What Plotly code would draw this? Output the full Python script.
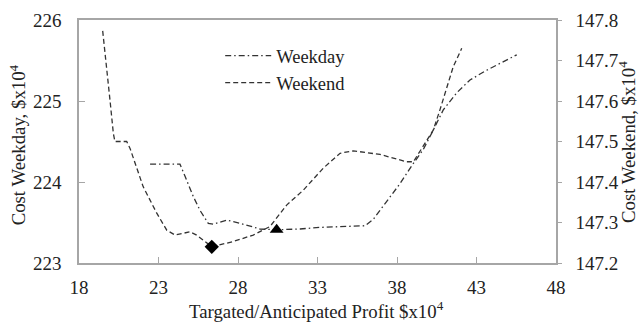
import plotly.graph_objects as go

# Weekday cost (left axis)
weekday_profit = [22.47, 24.35, 24.67, 25.19, 25.61, 26.13, 26.45, 27.29, 28.13, 29.38,
                  30.43, 31.90, 33.16, 35.47, 35.99, 36.51, 37.14, 38.19, 39.03, 39.65,
                  40.28, 40.91, 41.75, 42.59, 43.64, 44.69, 45.53]
weekday_cost = [224.22, 224.22, 224.07, 223.82, 223.65, 223.49, 223.48, 223.53, 223.49, 223.42,
                223.41, 223.42, 223.44, 223.45, 223.46, 223.54, 223.70, 223.98, 224.23, 224.40,
                224.64, 224.89, 225.10, 225.26, 225.38, 225.49, 225.57]

# Weekend cost (right axis)
weekend_profit = [19.49, 19.74, 19.95, 20.16, 20.26, 20.58, 21.00, 21.21, 22.04, 22.89,
                  23.52, 24.04, 24.98, 25.40, 26.35, 27.70, 28.96, 30.01, 31.06, 32.11,
                  33.36, 34.42, 35.25, 36.93, 38.61, 39.03, 39.65, 40.28, 40.70, 41.13,
                  41.54, 42.07]
weekend_cost = [147.773, 147.685, 147.602, 147.520, 147.500, 147.500, 147.500, 147.483, 147.388, 147.323,
                147.281, 147.269, 147.277, 147.269, 147.240, 147.253, 147.269, 147.290, 147.343, 147.380,
                147.434, 147.471, 147.477, 147.468, 147.450, 147.450, 147.487, 147.528, 147.578, 147.635,
                147.685, 147.730]

# Optimum points
weekend_opt = (26.35, 147.240)
weekday_opt = (30.43, 223.41)

x_ticks = [18, 23, 28, 33, 38, 43, 48]
left_ticks = [223, 224, 225, 226]
right_ticks = [147.2, 147.3, 147.4, 147.5, 147.6, 147.7, 147.8]

FONT = "Liberation Serif"
INK = "#222222"
AXIS = "#a6a6a6"
LINE = "#333333"

fig = go.Figure()
fig.add_trace(go.Scatter(
    x=weekday_profit, y=weekday_cost, mode="lines", name="Weekday",
    line=dict(color=LINE, width=1.3, dash="6px,3px,1.5px,3px"), yaxis="y"))
fig.add_trace(go.Scatter(
    x=weekend_profit, y=weekend_cost, mode="lines", name="Weekend",
    line=dict(color=LINE, width=1.3, dash="5px,3px"), yaxis="y2"))
fig.add_trace(go.Scatter(
    x=[weekend_opt[0]], y=[weekend_opt[1]], mode="markers", showlegend=False,
    marker=dict(symbol="diamond", size=11, color="black"), yaxis="y2"))
fig.add_trace(go.Scatter(
    x=[weekday_opt[0]], y=[weekday_opt[1]], mode="markers", showlegend=False,
    marker=dict(symbol="triangle-up", size=12, color="black"), yaxis="y"))

tickfont = dict(family=FONT, size=19, color=INK)
titlefont = dict(family=FONT, size=18.8, color=INK)

fig.update_layout(
    width=639, height=325,
    margin=dict(l=79, r=83, t=20, b=62),
    paper_bgcolor="white", plot_bgcolor="white",
    font=dict(family=FONT, size=18, color=INK),
    showlegend=True,
    legend=dict(x=0.296, y=0.93, xanchor="left", yanchor="top",
                bgcolor="rgba(0,0,0,0)", font=dict(size=18.5, family=FONT, color=INK),
                itemwidth=46, tracegroupgap=0),
    xaxis=dict(range=[18, 48], tickvals=x_ticks, ticks="inside", ticklen=6,
               tickcolor=AXIS, showline=True, linecolor=AXIS, linewidth=1.5,
               mirror=True, showgrid=False, zeroline=False, automargin=False,
               tickfont=tickfont, ticklabelstandoff=6),
    yaxis=dict(range=[223, 226], tickvals=left_ticks, ticks="inside", ticklen=6,
               tickcolor=AXIS, showline=True, linecolor=AXIS, linewidth=1.5,
               showgrid=False, zeroline=False, automargin=False, tickfont=tickfont,
               ticklabelstandoff=12),
    yaxis2=dict(range=[147.2, 147.8], tickvals=right_ticks, overlaying="y", side="right",
                ticks="outside", ticklen=4, tickcolor=AXIS, showline=True,
                linecolor=AXIS, linewidth=1.5, showgrid=False, zeroline=False,
                automargin=False, tickfont=tickfont, ticklabelstandoff=10,
                tickformat=".1f"),
    annotations=[
        dict(text="Targated/Anticipated Profit $x10<sup>4</sup>",
             xref="paper", yref="paper", x=0.497, y=-0.195,
             xanchor="center", yanchor="middle", showarrow=False, font=titlefont),
        dict(text="Cost Weekday, $x10<sup>4</sup>", textangle=-90,
             xref="paper", yref="paper", x=-0.128, y=0.488,
             xanchor="center", yanchor="middle", showarrow=False, font=titlefont),
        dict(text="Cost Weekend, $x10<sup>4</sup>", textangle=-90,
             xref="paper", yref="paper", x=1.150, y=0.496,
             xanchor="center", yanchor="middle", showarrow=False, font=titlefont),
    ],
)

fig.write_html("out.html")
